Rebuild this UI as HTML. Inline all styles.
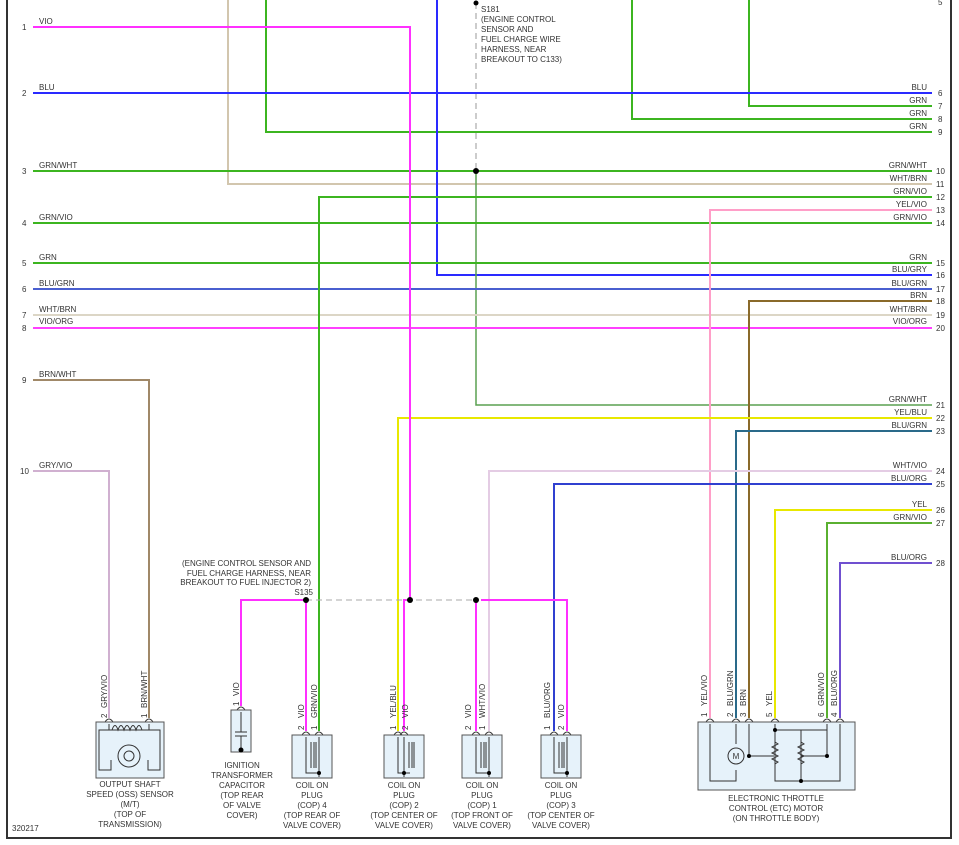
<!DOCTYPE html>
<html><head><meta charset="utf-8"><style>
html,body{margin:0;padding:0;background:#fff;}
svg{display:block;}
text{font-family:"Liberation Sans",sans-serif;font-size:8px;fill:#333;}
.r{text-anchor:end;}
.m{text-anchor:middle;}
.w{fill:none;stroke-width:2;}
.box{fill:#e6f2fa;stroke:#555;stroke-width:1;}
.in{fill:none;stroke:#333;stroke-width:1;}
</style></head><body>
<svg width="959" height="845" viewBox="0 0 959 845" xmlns="http://www.w3.org/2000/svg">
<rect x="7" y="-2" width="944" height="840" fill="none" stroke="#333" stroke-width="2"/>

<g>
<text x="22" y="30">1</text><text x="22" y="96">2</text><text x="22" y="174">3</text><text x="22" y="226">4</text>
<text x="22" y="266">5</text><text x="22" y="292">6</text><text x="22" y="318">7</text><text x="22" y="331">8</text>
<text x="22" y="383">9</text><text x="20" y="474">10</text>
<text x="39" y="24">VIO</text><text x="39" y="90">BLU</text><text x="39" y="168">GRN/WHT</text><text x="39" y="220">GRN/VIO</text>
<text x="39" y="260">GRN</text><text x="39" y="286">BLU/GRN</text><text x="39" y="312">WHT/BRN</text><text x="39" y="324">VIO/ORG</text>
<text x="39" y="377">BRN/WHT</text><text x="39" y="468">GRY/VIO</text>
</g>
<g>
<text x="938" y="5">5</text>
<text x="938" y="96">6</text><text x="938" y="109">7</text><text x="938" y="122">8</text><text x="938" y="135">9</text>
<text x="936" y="174">10</text><text x="936" y="187">11</text><text x="936" y="200">12</text><text x="936" y="213">13</text><text x="936" y="226">14</text>
<text x="936" y="266">15</text><text x="936" y="278">16</text><text x="936" y="292">17</text><text x="936" y="304">18</text><text x="936" y="318">19</text><text x="936" y="331">20</text>
<text x="936" y="408">21</text><text x="936" y="421">22</text><text x="936" y="434">23</text><text x="936" y="474">24</text><text x="936" y="487">25</text>
<text x="936" y="513">26</text><text x="936" y="526">27</text><text x="936" y="566">28</text>
<text class="r" x="927" y="90">BLU</text><text class="r" x="927" y="103">GRN</text><text class="r" x="927" y="116">GRN</text><text class="r" x="927" y="129">GRN</text>
<text class="r" x="927" y="168">GRN/WHT</text><text class="r" x="927" y="181">WHT/BRN</text><text class="r" x="927" y="194">GRN/VIO</text><text class="r" x="927" y="207">YEL/VIO</text><text class="r" x="927" y="220">GRN/VIO</text>
<text class="r" x="927" y="260">GRN</text><text class="r" x="927" y="272">BLU/GRY</text><text class="r" x="927" y="286">BLU/GRN</text><text class="r" x="927" y="298">BRN</text><text class="r" x="927" y="312">WHT/BRN</text><text class="r" x="927" y="324">VIO/ORG</text>
<text class="r" x="927" y="402">GRN/WHT</text><text class="r" x="927" y="415">YEL/BLU</text><text class="r" x="927" y="428">BLU/GRN</text><text class="r" x="927" y="468">WHT/VIO</text><text class="r" x="927" y="481">BLU/ORG</text>
<text class="r" x="927" y="507">YEL</text><text class="r" x="927" y="520">GRN/VIO</text><text class="r" x="927" y="560">BLU/ORG</text>
</g>

<line x1="476" y1="3" x2="476" y2="171" stroke="#999" stroke-dasharray="6,4"/>
<text x="481" y="12">S181</text><text x="481" y="22">(ENGINE CONTROL</text><text x="481" y="32">SENSOR AND</text>
<text x="481" y="42">FUEL CHARGE WIRE</text><text x="481" y="52">HARNESS, NEAR</text><text x="481" y="62">BREAKOUT TO C133)</text>

<g class="w">
<polyline points="228,0 228,184 932,184" stroke="#d2c6ae"/>
<polyline points="266,0 266,132 932,132" stroke="#3cb520"/>
<polyline points="437,0 437,275 932,275" stroke="#2a2aff"/>
<polyline points="632,0 632,119 932,119" stroke="#3cb520"/>
<polyline points="749,0 749,106 932,106" stroke="#3cb520"/>
<line x1="33" y1="93" x2="932" y2="93" stroke="#2a2aff"/>
<line x1="33" y1="171" x2="932" y2="171" stroke="#3cb520"/>
<polyline points="476,171 476,405 932,405" stroke="#5aa050" stroke-width="1.5"/>
<line x1="33" y1="223" x2="932" y2="223" stroke="#3cb520"/>
<line x1="33" y1="263" x2="932" y2="263" stroke="#3cb520"/>
<line x1="33" y1="289" x2="932" y2="289" stroke="#4a5fd0"/>
<line x1="33" y1="315" x2="932" y2="315" stroke="#dcd6c6"/>
<line x1="33" y1="328" x2="932" y2="328" stroke="#ff40ff"/>
<polyline points="319,731 319,197 932,197" stroke="#3cb520"/>
<polyline points="710,718 710,210 932,210" stroke="#ff9ec8"/>
<polyline points="749,718 749,301 932,301" stroke="#8a6a2a"/>
<polyline points="398,731 398,418 932,418" stroke="#e8e800"/>
<polyline points="736,718 736,431 932,431" stroke="#2a6a8a"/>
<polyline points="489,731 489,471 932,471" stroke="#e4cce4"/>
<polyline points="554,731 554,484 932,484" stroke="#3040d0"/>
<polyline points="775,718 775,510 932,510" stroke="#e8e800"/>
<polyline points="827,718 827,523 932,523" stroke="#5ab030"/>
<polyline points="840,718 840,563 932,563" stroke="#7050d0"/>
<polyline points="33,380 149,380 149,718" stroke="#a08868"/>
<polyline points="33,471 109,471 109,718" stroke="#d0b0d0"/>
<polyline points="33,27 410,27 410,600 404,600 404,731" stroke="#ff30ff"/>
<polyline points="241,706 241,600 306,600 306,731" stroke="#ff30ff"/>
<polyline points="476,600 476,731" stroke="#ff30ff"/>
<polyline points="481,600 567,600 567,731" stroke="#ff30ff"/>
</g>
<line x1="306" y1="600" x2="476" y2="600" stroke="#aaa" stroke-dasharray="6,4"/>
<g fill="#000"><circle cx="476" cy="3" r="2.5"/><circle cx="476" cy="171" r="3"/><circle cx="306" cy="600" r="3"/><circle cx="410" cy="600" r="3"/><circle cx="476" cy="600" r="3"/></g>
<text class="r" x="311" y="566">(ENGINE CONTROL SENSOR AND</text>
<text class="r" x="311" y="576">FUEL CHARGE HARNESS, NEAR</text>
<text class="r" x="311" y="585">BREAKOUT TO FUEL INJECTOR 2)</text>
<text class="r" x="313" y="595">S135</text>

<!-- pin arcs -->
<g class="in">
<path d="M105,722q4,-6 8,0M145,722q4,-6 8,0M237,710q4,-6 8,0"/>
<path d="M302,735q4,-6 8,0M315,735q4,-6 8,0M394,735q4,-6 8,0M400,735q4,-6 8,0M472,735q4,-6 8,0M485,735q4,-6 8,0M550,735q4,-6 8,0M563,735q4,-6 8,0"/>
<path d="M706,722q4,-6 8,0M732,722q4,-6 8,0M745,722q4,-6 8,0M771,722q4,-6 8,0M823,722q4,-6 8,0M836,722q4,-6 8,0"/>
</g>

<!-- pin numbers and labels -->
<g>
<text transform="translate(107,718) rotate(-90)">2</text><text transform="translate(107,708) rotate(-90)">GRY/VIO</text>
<text transform="translate(147,718) rotate(-90)">1</text><text transform="translate(147,708) rotate(-90)">BRN/WHT</text>
<text transform="translate(239,706) rotate(-90)">1</text><text transform="translate(239,696) rotate(-90)">VIO</text>
<text transform="translate(304,730) rotate(-90)">2</text><text transform="translate(304,718) rotate(-90)">VIO</text>
<text transform="translate(317,730) rotate(-90)">1</text><text transform="translate(317,718) rotate(-90)">GRN/VIO</text>
<text transform="translate(396,730) rotate(-90)">1</text><text transform="translate(396,718) rotate(-90)">YEL/BLU</text>
<text transform="translate(408,730) rotate(-90)">2</text><text transform="translate(408,718) rotate(-90)">VIO</text>
<text transform="translate(471,730) rotate(-90)">2</text><text transform="translate(471,718) rotate(-90)">VIO</text>
<text transform="translate(485,730) rotate(-90)">1</text><text transform="translate(485,718) rotate(-90)">WHT/VIO</text>
<text transform="translate(550,730) rotate(-90)">1</text><text transform="translate(550,718) rotate(-90)">BLU/ORG</text>
<text transform="translate(564,730) rotate(-90)">2</text><text transform="translate(564,718) rotate(-90)">VIO</text>
<text transform="translate(707,717) rotate(-90)">1</text><text transform="translate(707,706) rotate(-90)">YEL/VIO</text>
<text transform="translate(733,717) rotate(-90)">2</text><text transform="translate(733,706) rotate(-90)">BLU/GRN</text>
<text transform="translate(746,717) rotate(-90)">3</text><text transform="translate(746,706) rotate(-90)">BRN</text>
<text transform="translate(772,717) rotate(-90)">5</text><text transform="translate(772,706) rotate(-90)">YEL</text>
<text transform="translate(824,717) rotate(-90)">6</text><text transform="translate(824,706) rotate(-90)">GRN/VIO</text>
<text transform="translate(837,717) rotate(-90)">4</text><text transform="translate(837,706) rotate(-90)">BLU/ORG</text>
</g>

<rect class="box" x="96" y="722" width="68" height="56"/>
<path class="in" d="M109,724v6h-10v40h12v-10M149,724v6h11v40h-12v-10M109,730h40"/>
<path class="in" d="M112,730c2,-6 4,-6 6,0c2,-6 4,-6 6,0c2,-6 4,-6 6,0c2,-6 4,-6 6,0c2,-6 4,-6 6,0"/>
<circle class="in" cx="129" cy="756" r="11"/><circle class="in" cx="129" cy="756" r="5"/>
<text class="m" x="130" y="787">OUTPUT SHAFT</text><text class="m" x="130" y="797">SPEED (OSS) SENSOR</text>
<text class="m" x="130" y="807">(M/T)</text><text class="m" x="130" y="817">(TOP OF</text><text class="m" x="130" y="827">TRANSMISSION)</text>

<rect class="box" x="231" y="710" width="20" height="42"/>
<path class="in" d="M241,712v20M235,732h12M235,736h12M241,736v14"/>
<circle cx="241" cy="750" r="2.5" fill="#000"/>
<text class="m" x="242" y="768">IGNITION</text><text class="m" x="242" y="778">TRANSFORMER</text><text class="m" x="242" y="788">CAPACITOR</text>
<text class="m" x="242" y="798">(TOP REAR</text><text class="m" x="242" y="808">OF VALVE</text><text class="m" x="242" y="818">COVER)</text>

<g>
<rect class="box" x="292" y="735" width="40" height="43"/>
<path class="in" d="M306,737v36h12M319,737v36v4M311,742v26M314,742v26M316,742v26"/><circle cx="319" cy="773" r="2" fill="#000"/>
<rect class="box" x="384" y="735" width="40" height="43"/>
<path class="in" d="M398,737v36h12M404,737v36v4M409,742v26M412,742v26M414,742v26"/><circle cx="404" cy="773" r="2" fill="#000"/>
<rect class="box" x="462" y="735" width="40" height="43"/>
<path class="in" d="M476,737v36h12M489,737v36v4M481,742v26M484,742v26M486,742v26"/><circle cx="489" cy="773" r="2" fill="#000"/>
<rect class="box" x="541" y="735" width="40" height="43"/>
<path class="in" d="M554,737v36h12M567,737v36v4M559,742v26M562,742v26M564,742v26"/><circle cx="567" cy="773" r="2" fill="#000"/>
</g>
<g>
<text class="m" x="312" y="788">COIL ON</text><text class="m" x="312" y="798">PLUG</text><text class="m" x="312" y="808">(COP) 4</text><text class="m" x="312" y="818">(TOP REAR OF</text><text class="m" x="312" y="828">VALVE COVER)</text>
<text class="m" x="404" y="788">COIL ON</text><text class="m" x="404" y="798">PLUG</text><text class="m" x="404" y="808">(COP) 2</text><text class="m" x="404" y="818">(TOP CENTER OF</text><text class="m" x="404" y="828">VALVE COVER)</text>
<text class="m" x="482" y="788">COIL ON</text><text class="m" x="482" y="798">PLUG</text><text class="m" x="482" y="808">(COP) 1</text><text class="m" x="482" y="818">(TOP FRONT OF</text><text class="m" x="482" y="828">VALVE COVER)</text>
<text class="m" x="561" y="788">COIL ON</text><text class="m" x="561" y="798">PLUG</text><text class="m" x="561" y="808">(COP) 3</text><text class="m" x="561" y="818">(TOP CENTER OF</text><text class="m" x="561" y="828">VALVE COVER)</text>
</g>

<rect class="box" x="698" y="722" width="157" height="68"/>
<path class="in" d="M710,724v57h13M736,724v20M736,770v11h-13M749,724v32h25M775,724v6h52M775,730v51h65v-57M801,730v51M827,724v32h-26"/>
<circle class="in" cx="736" cy="756" r="8"/><text class="m" x="736" y="759">M</text>
<path class="in" d="M775,742l3,2l-6,3l6,3l-6,3l6,3l-6,3l6,3l-3,2v10M801,742l3,2l-6,3l6,3l-6,3l6,3l-6,3l6,3l-3,2"/>
<g fill="#000"><circle cx="775" cy="730" r="2"/><circle cx="749" cy="756" r="2"/><circle cx="827" cy="756" r="2"/><circle cx="801" cy="781" r="2"/></g>
<text class="m" x="776" y="801">ELECTRONIC THROTTLE</text><text class="m" x="776" y="811">CONTROL (ETC) MOTOR</text><text class="m" x="776" y="821">(ON THROTTLE BODY)</text>

<text x="12" y="831">320217</text>
</svg>
</body></html>
